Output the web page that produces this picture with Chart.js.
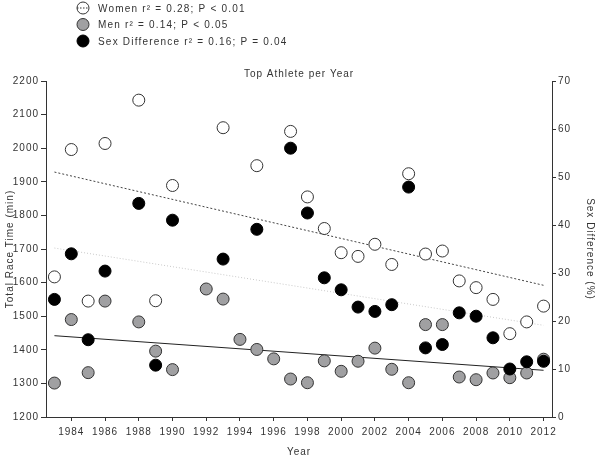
<!DOCTYPE html>
<html>
<head>
<meta charset="utf-8">
<title>Top Athlete per Year</title>
<script src="https://cdn.jsdelivr.net/npm/chart.js@4.4.1/dist/chart.umd.min.js"></script>
<style>
  html, body { margin: 0; padding: 0; background: #fff; }
  #miGrafica { display: block; }
</style>
</head>
<body>
<canvas id="miGrafica" width="600" height="458"></canvas>
<script>
// Values (null = no point that year)
const years = [1983, 1984, 1985, 1986, 1987, 1988, 1989, 1990, 1991, 1992,
               1993, 1994, 1995, 1996, 1997, 1998, 1999, 2000, 2001, 2002,
               2003, 2004, 2005, 2006, 2007, 2008, 2009, 2010, 2011, 2012];
const women = [1617, 1996, 1545, 2014, null, 2143, 1546, 1889, null, null,
               2061, null, 1948, null, 2050, 1855, 1761, 1689, 1678, 1714,
               1654, 1924, 1685, 1694, 1605, 1585, 1550, 1448, 1483, 1530];
const men = [1301, 1490, 1332, 1545, null, 1483, 1396, 1341, null, 1581,
             1551, 1431, 1401, 1373, 1313, 1302, 1367, 1336, 1366, 1405,
             1342, 1302, 1475, 1475, 1319, 1311, 1331, 1317, 1331, 1372];
const sexDiff = [24.5, 34.0, 16.1, 30.4, null, 44.5, 10.8, 41.0, null, null,
                 32.9, null, 39.1, null, 56.0, 42.5, 29.0, 26.5, 22.9, 22.0,
                 23.4, 47.9, 14.4, 15.1, 21.7, 21.0, 16.5, 10.0, 11.5, 11.6];

// Regression lines (end points)
const fitYears = [1983, 2012];
const womenFit = [1929, 1592];
const menFit = [1442, 1339];
const sexDiffFit = [35.2, 19.1];

// Tick labels
const xTicks = [1984, 1986, 1988, 1990, 1992, 1994, 1996, 1998, 2000, 2002, 2004, 2006, 2008, 2010, 2012];
const leftTicks = [1200, 1300, 1400, 1500, 1600, 1700, 1800, 1900, 2000, 2100, 2200];
const rightTicks = [0, 10, 20, 30, 40, 50, 60, 70];

const legendLabels = ['Women r\u00B2 = 0.28; P < 0.01', 'Men r\u00B2 = 0.14; P < 0.05', 'Sex Difference r\u00B2 = 0.16; P = 0.04'];

const FONT = "'Liberation Sans', Arial, sans-serif";
const TEXT = '#333';

function toPoints(xs, ys) {
    return xs.map((x, i) => ys[i] == null ? null : { x: x, y: ys[i] }).filter(p => p);
}

// Letter spacing like the original figure
const spacingPlugin = {
    id: 'spacing',
    beforeDraw(chart) { chart.ctx.letterSpacing = '1px'; }
};

// Legend and title drawn by hand (stacked legend at the top left)
const headerPlugin = {
    id: 'header',
    afterDraw(chart) {
        const ctx = chart.ctx;
        ctx.save();
        ctx.letterSpacing = '1px';
        ctx.font = '10px ' + FONT;
        ctx.fillStyle = TEXT;
        ctx.textBaseline = 'middle';
        ctx.textAlign = 'center';
        ctx.fillText('Top Athlete per Year', (chart.chartArea.left + chart.chartArea.right) / 2, 74);

        ctx.letterSpacing = '1.2px';
        const fills = ['#ffffff', '#a0a0a2', '#000000'];
        const rowsY = [8, 24.5, 41];
        const cx = 83;
        rowsY.forEach((y, i) => {
            ctx.beginPath();
            ctx.arc(cx, y, 6, 0, Math.PI * 2);
            ctx.fillStyle = fills[i];
            ctx.fill();
            ctx.lineWidth = 1;
            ctx.strokeStyle = i === 2 ? '#000' : '#333';
            ctx.stroke();
            if (i === 0) {
                ctx.setLineDash([1.5, 1.5]);
                ctx.beginPath();
                ctx.moveTo(cx - 6, y);
                ctx.lineTo(cx + 6, y);
                ctx.stroke();
                ctx.setLineDash([]);
            }
            ctx.fillStyle = TEXT;
            ctx.textAlign = 'left';
            ctx.fillText(legendLabels[i], 98, y + 1);
        });
        ctx.restore();
    }
};

const ctx = document.getElementById('miGrafica').getContext('2d');

new Chart(ctx, {
    type: 'scatter',
    data: {
        datasets: [
            {
                label: 'Sex Difference',
                data: toPoints(years, sexDiff),
                yAxisID: 'y1',
                backgroundColor: '#000',
                borderColor: '#000',
                borderWidth: 1,
                pointRadius: 6,
                order: 0
            },
            {
                label: 'Men',
                data: toPoints(years, men),
                yAxisID: 'y',
                backgroundColor: '#a0a0a2',
                borderColor: '#333',
                borderWidth: 1,
                pointRadius: 6,
                order: 1
            },
            {
                label: 'Women',
                data: toPoints(years, women),
                yAxisID: 'y',
                backgroundColor: '#fff',
                borderColor: '#333',
                borderWidth: 1,
                pointRadius: 6,
                order: 2
            },
            {
                label: 'Women fit',
                data: toPoints(fitYears, womenFit),
                yAxisID: 'y',
                showLine: true,
                pointRadius: 0,
                borderColor: '#444',
                borderWidth: 1,
                borderDash: [2, 2],
                order: 3
            },
            {
                label: 'Men fit',
                data: toPoints(fitYears, menFit),
                yAxisID: 'y',
                showLine: true,
                pointRadius: 0,
                borderColor: '#222',
                borderWidth: 1,
                order: 4
            },
            {
                label: 'Sex Difference fit',
                data: toPoints(fitYears, sexDiffFit),
                yAxisID: 'y1',
                showLine: true,
                pointRadius: 0,
                borderColor: '#c8c8c8',
                borderWidth: 1,
                borderDash: [1, 2],
                order: 5
            }
        ]
    },
    options: {
        responsive: false,
        animation: false,
        devicePixelRatio: 1,
        layout: { padding: { top: 81, left: 0, right: 0, bottom: 0 } },
        plugins: {
            legend: { display: false },
            title: { display: false },
            tooltip: { enabled: false }
        },
        scales: {
            x: {
                type: 'linear',
                min: 1982.5,
                max: 2012.5,
                afterBuildTicks: s => { s.ticks = xTicks.map(v => ({ value: v })); },
                afterFit: s => { s.height = 41; },
                grid: { drawOnChartArea: false, tickLength: 4, color: '#333' },
                border: { display: true, color: '#333', width: 1 },
                ticks: {
                    color: TEXT,
                    font: { family: FONT, size: 10 },
                    padding: 5,
                    maxRotation: 0,
                    autoSkip: false,
                    callback: v => String(v)
                },
                title: {
                    display: true,
                    text: 'Year',
                    color: TEXT,
                    font: { family: FONT, size: 10 },
                    padding: { top: 0, bottom: 0 }
                }
            },
            y: {
                position: 'left',
                min: 1200,
                max: 2200,
                afterBuildTicks: s => { s.ticks = leftTicks.map(v => ({ value: v })); },
                afterFit: s => { s.width = 46; },
                grid: { drawOnChartArea: false, tickLength: 5, color: '#333' },
                border: { display: true, color: '#333', width: 1 },
                ticks: {
                    color: TEXT,
                    font: { family: FONT, size: 10 },
                    padding: 2,
                    callback: v => String(v)
                },
                title: {
                    display: true,
                    text: 'Total Race Time (min)',
                    color: TEXT,
                    font: { family: FONT, size: 10 },
                    padding: { top: 4, bottom: 0 }
                }
            },
            y1: {
                position: 'right',
                min: 0,
                max: 70,
                afterBuildTicks: s => { s.ticks = rightTicks.map(v => ({ value: v })); },
                afterFit: s => { s.width = 48; },
                grid: { drawOnChartArea: false, tickLength: 4, color: '#333' },
                border: { display: true, color: '#333', width: 1 },
                ticks: {
                    color: TEXT,
                    font: { family: FONT, size: 10 },
                    padding: 2,
                    callback: v => String(v)
                },
                title: {
                    display: true,
                    text: 'Sex Difference (%)',
                    color: TEXT,
                    font: { family: FONT, size: 10 },
                    padding: { top: 4, bottom: 0 }
                }
            }
        }
    },
    plugins: [spacingPlugin, headerPlugin]
});
</script>
</body>
</html>
